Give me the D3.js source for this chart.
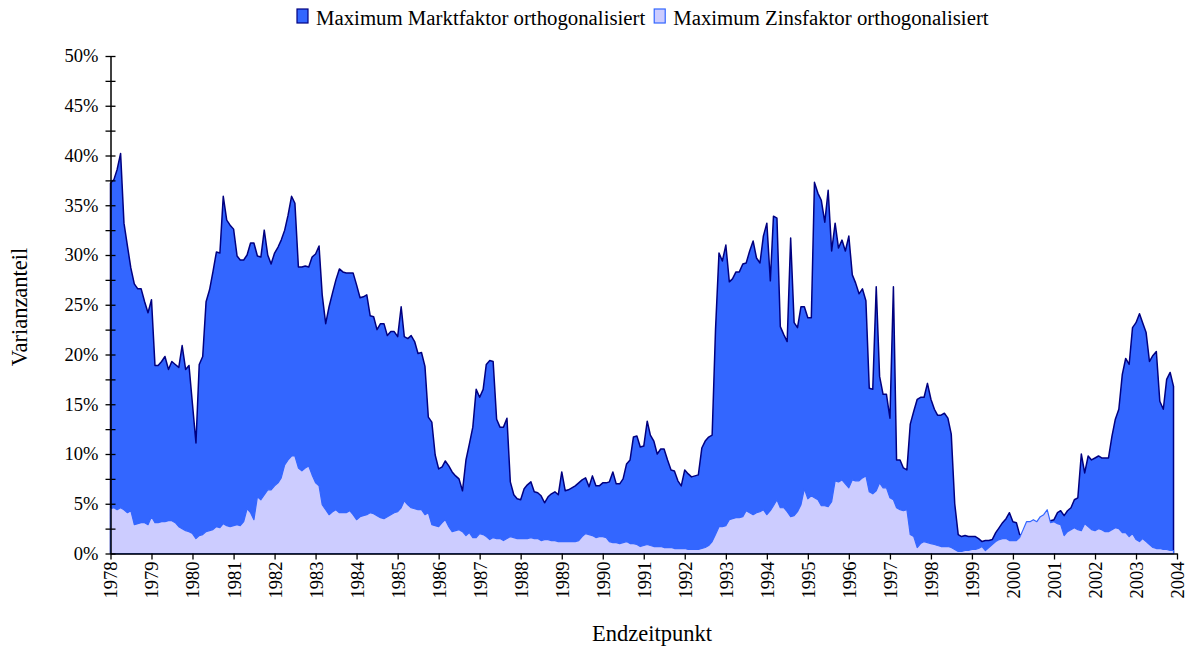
<!DOCTYPE html>
<html><head><meta charset="utf-8">
<script src="https://cdn.jsdelivr.net/npm/d3@7"></script>
<style>
body{margin:0;background:#fff;}
text{font-family:"Liberation Serif","Times New Roman",serif;fill:#000;}
</style></head>
<body><svg id="c" width="1189" height="646"></svg>
<script>
// Monthly observations Jan 1978 .. Dec 2003 (312 months)
const startYear = 1978, monthCount = 312;
const months = d3.range(monthCount).map(i => new Date(startYear, i, 1));

const seriesNames = ["Maximum Marktfaktor orthogonalisiert", "Maximum Zinsfaktor orthogonalisiert"];

// Varianzanteil in % – Maximum Marktfaktor orthogonalisiert
const marktfaktor = [
37.2,37.6,38.6,40.2,33.2,30.9,28.7,27.1,26.6,26.6,
25.3,24.2,25.5,18.9,18.9,19.3,19.8,18.5,19.3,19.0,
18.7,20.9,18.5,18.9,15.0,11.1,19.0,19.8,25.3,26.5,
28.3,30.3,30.2,35.9,33.5,33.0,32.6,29.9,29.5,29.5,
30.0,31.2,31.2,29.9,29.8,32.5,30.0,29.1,30.2,30.8,
31.5,32.5,34.0,35.9,35.2,28.8,28.8,28.9,28.8,29.8,
30.1,30.9,26.0,23.1,24.8,26.2,27.5,28.6,28.3,28.2,
28.2,28.2,27.0,25.7,25.8,26.0,23.9,23.8,22.5,23.1,
23.1,21.9,22.3,22.3,21.8,24.8,21.8,21.6,21.9,21.3,
20.1,20.2,18.8,13.7,13.2,9.9,8.5,8.7,9.3,8.8,
8.2,7.8,7.5,6.3,9.4,11.0,12.7,16.5,15.7,16.5,
19.0,19.4,19.3,13.5,12.7,12.7,13.6,7.2,5.9,5.5,
5.4,6.5,6.9,7.2,6.2,6.1,5.8,5.1,5.7,6.0,
6.2,5.9,8.2,6.3,6.4,6.6,6.8,7.1,7.4,7.6,
6.7,7.8,6.8,6.8,7.1,7.1,7.2,8.2,7.0,7.0,
7.5,9.0,9.4,11.7,11.8,10.7,10.8,13.3,11.9,11.3,
10.0,10.5,10.5,9.4,8.4,8.3,7.3,6.8,8.4,8.0,
7.7,7.8,7.9,10.6,11.3,11.7,11.9,22.5,30.2,29.4,
31.0,27.3,27.6,28.3,28.3,29.1,29.2,30.4,31.4,29.7,
29.2,31.9,33.2,27.4,33.9,33.7,22.8,22.0,21.3,31.7,
23.2,22.7,24.8,24.8,23.7,23.7,37.3,36.2,35.5,33.3,
36.5,30.4,33.2,30.7,31.5,30.4,31.9,28.0,27.2,26.1,
26.6,25.4,16.6,16.5,26.8,17.8,16.0,16.0,13.6,26.8,
9.4,9.4,8.6,8.4,13.0,14.3,15.5,15.7,15.7,17.1,
15.5,14.5,13.9,13.9,14.1,13.6,12.0,5.0,1.9,1.7,
1.8,1.7,1.7,1.7,1.5,1.2,1.3,1.3,1.4,2.1,
2.6,3.1,3.5,4.1,3.2,3.1,1.9,1.8,2.4,2.6,
2.8,2.8,3.0,3.1,3.2,3.3,3.4,4.1,4.3,3.8,
4.3,4.6,5.4,5.6,10.0,8.1,9.8,9.4,9.6,9.8,
9.6,9.6,9.6,11.8,13.5,14.5,18.0,19.6,19.0,22.7,
23.2,24.1,23.2,22.2,19.3,19.9,20.3,15.3,14.5,17.5,
18.2,16.8
];

// Varianzanteil in % – Maximum Zinsfaktor orthogonalisiert
const zinsfaktor = [
4.5,4.6,4.4,4.6,4.4,4.1,4.3,2.9,3.0,3.1,
3.1,2.9,3.7,3.1,3.1,3.2,3.2,3.3,3.3,3.1,
2.7,2.5,2.3,2.2,2.0,1.5,1.8,1.9,2.2,2.3,
2.4,2.7,2.6,3.0,2.8,2.7,2.8,2.9,2.8,3.2,
4.5,4.1,3.4,5.7,5.4,5.9,6.4,6.4,6.8,7.1,
7.6,8.9,9.4,9.8,9.8,8.6,8.3,8.6,8.8,7.9,
7.1,6.8,4.9,4.4,3.9,4.2,4.4,4.1,4.1,4.1,
4.3,3.9,3.4,3.7,3.8,3.9,4.1,4.0,3.8,3.6,
3.5,3.7,3.9,4.1,4.2,4.6,5.3,4.9,4.6,4.5,
4.4,4.4,3.9,4.1,2.9,2.8,2.7,3.1,3.4,2.7,
2.2,2.3,2.4,2.2,1.8,2.1,1.6,1.6,2.0,1.9,
1.7,1.4,1.6,1.5,1.5,1.3,1.5,1.7,1.6,1.5,
1.5,1.5,1.5,1.6,1.5,1.5,1.3,1.4,1.4,1.3,
1.3,1.2,1.2,1.2,1.2,1.2,1.2,1.3,1.7,2.0,
1.9,1.8,1.6,1.7,1.7,1.6,1.2,1.1,1.1,1.0,
1.1,1.2,1.0,1.0,0.9,0.7,0.8,0.9,0.8,0.7,
0.7,0.7,0.6,0.6,0.6,0.5,0.5,0.5,0.5,0.4,
0.4,0.4,0.4,0.5,0.6,0.8,1.2,1.9,2.7,2.7,
2.8,3.4,3.5,3.6,3.6,3.7,4.3,4.1,3.9,4.1,
4.2,4.4,3.9,4.3,4.8,5.4,4.6,4.6,4.2,3.7,
3.8,4.2,4.9,6.5,5.5,5.8,5.6,5.4,4.8,4.8,
4.7,5.2,7.3,7.2,7.4,7.0,6.6,7.4,7.3,7.3,
7.6,7.8,6.2,6.0,6.3,7.1,6.6,6.6,5.6,5.4,
4.6,4.4,4.3,4.4,1.9,1.7,0.6,1.0,1.2,1.1,
1.0,0.9,0.8,0.7,0.7,0.7,0.6,0.4,0.2,0.2,
0.3,0.3,0.4,0.4,0.5,0.7,0.3,0.6,0.9,1.2,
1.4,1.5,1.5,1.3,1.3,1.3,1.6,2.4,3.2,3.2,
3.4,3.2,3.7,3.9,4.4,3.1,3.2,3.0,2.9,1.8,
2.2,2.4,2.6,2.4,2.3,3.0,2.7,2.4,2.3,2.5,
2.4,2.2,2.2,2.4,2.6,2.5,2.1,2.1,1.7,2.0,
1.4,1.2,1.5,1.2,0.9,0.6,0.5,0.5,0.4,0.4,
0.3,0.3
];

const yearTicks = d3.range(1978, 2005);       // 1978 .. 2004
const yTicksMajor = [0,5,10,15,20,25,30,35,40,45,50];
const yTicksMinor = [2.5,7.5,12.5,17.5,22.5,27.5,32.5,37.5,42.5,47.5];

const svg = d3.select("#c");
const L = 110.5, R = 1177, T = 56, B = 553.5;

const x = d3.scaleTime().domain([new Date(1978,0,1), new Date(2004,0,1)]).range([L, R]);
const y = d3.scaleLinear().domain([0, 50]).range([B, T]);

const area = vals => d3.area()
  .x((d,i) => x(months[i]))
  .y0(y(0))
  .y1(d => y(d))(vals);

// Marktfaktor (dark)
svg.append("path").attr("d", area(marktfaktor) + "Z")
  .attr("fill", "#3366FF").attr("stroke", "#000080").attr("stroke-width", 1.5)
  .attr("stroke-linejoin", "round");
// Zinsfaktor (light)
svg.append("path").attr("d", area(zinsfaktor) + "Z")
  .attr("fill", "#CCCCFF").attr("stroke", "#3366FF").attr("stroke-width", 1.2)
  .attr("stroke-linejoin", "round");

// Y axis (ticks cross the axis line)
const yAxis = svg.append("g").attr("transform", `translate(${L},0)`)
  .call(d3.axisLeft(y).tickValues(yTicksMajor).tickFormat(d => d + "%").tickSizeInner(5).tickSizeOuter(0).tickPadding(7));
const yMinor = svg.append("g").attr("transform", `translate(${L},0)`)
  .call(d3.axisLeft(y).tickValues(yTicksMinor).tickFormat("").tickSizeInner(5).tickSizeOuter(0));
yMinor.select(".domain").remove();
yAxis.selectAll(".tick line").attr("x1", 5);
yMinor.selectAll(".tick line").attr("x1", 5);
// X axis
const xAxis = svg.append("g").attr("transform", `translate(0,${B})`)
  .call(d3.axisBottom(x).tickValues(yearTicks.map(yy => new Date(yy,0,1))).tickFormat(d3.timeFormat("%Y")).tickSizeInner(6).tickSizeOuter(0));
xAxis.selectAll("text")
  .attr("transform", "rotate(-90)")
  .attr("text-anchor", "end")
  .attr("x", -8).attr("y", 0).attr("dy", "0.35em");

svg.selectAll(".domain").attr("stroke", "#000").attr("stroke-width", 1.5);
svg.selectAll(".tick line").attr("stroke", "#000").attr("stroke-width", 1.3);
svg.selectAll(".tick text").style("font-family", '"Liberation Serif","Times New Roman",serif').style("font-size", "18.5px").attr("fill", "#000");

// Axis titles
svg.append("text").attr("transform", "translate(27,307) rotate(-90)")
  .attr("text-anchor", "middle").style("font-size", "22.5px").text("Varianzanteil");
svg.append("text").attr("x", 652).attr("y", 641)
  .attr("text-anchor", "middle").style("font-size", "22.5px").text("Endzeitpunkt");

// Legend
const lg = svg.append("g");
const colors = [["#3366FF","#000080"],["#CCCCFF","#3366FF"]];
let cx = 297;
seriesNames.forEach((name, i) => {
  lg.append("rect").attr("x", cx).attr("y", 9).attr("width", 11).attr("height", 14)
    .attr("fill", colors[i][0]).attr("stroke", colors[i][1]).attr("stroke-width", 1.2);
  const t = lg.append("text").attr("x", cx + 19).attr("y", 25).style("font-size", "20.8px").text(name);
  cx = cx + 19 + t.node().getComputedTextLength() + 9;
});
</script></body></html>
